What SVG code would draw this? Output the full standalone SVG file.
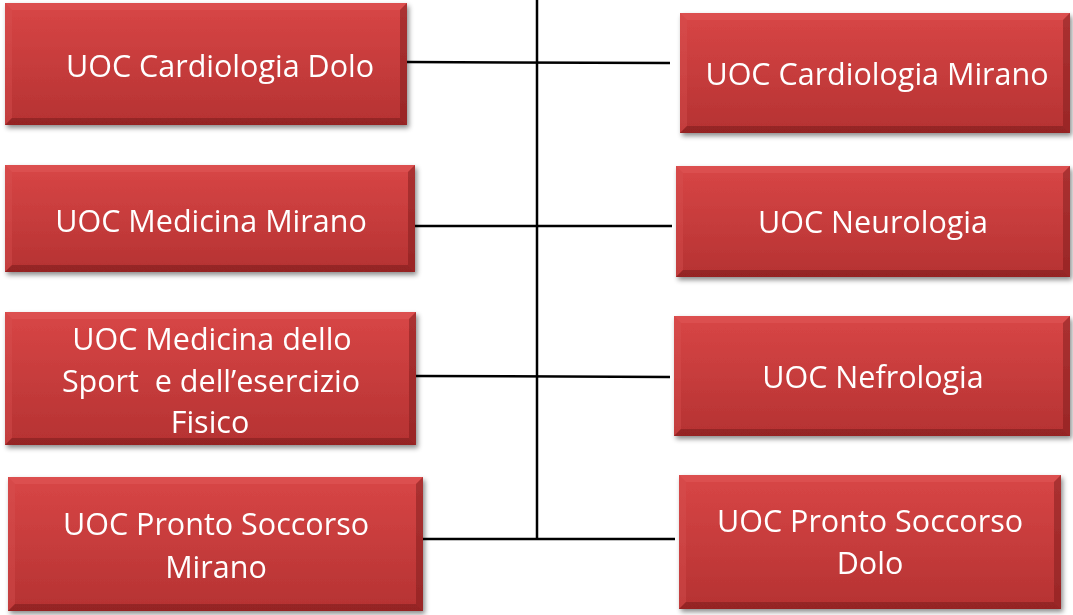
<svg xmlns="http://www.w3.org/2000/svg" width="1073" height="615" viewBox="0 0 1073 615">
<style>
.face{fill:url(#red)}
.bt{fill:#e05a5a;opacity:.55}
.bl{fill:#d65050;opacity:.4}
.br{fill:#7e1c1c;opacity:.5}
.bb{fill:#7a1a1a;opacity:.55}
.lbl{font-family:"Open Sans","Liberation Sans",sans-serif;font-size:30.5px;fill:#fff;text-anchor:middle;white-space:pre}
.conn line{stroke:#000;stroke-width:2.5}
.node{filter:url(#sh)}
</style>
<defs>
<linearGradient id="red" x1="0" y1="0" x2="0" y2="1">
<stop offset="0" stop-color="#d84646"/>
<stop offset="1" stop-color="#b53232"/>
</linearGradient>
<filter id="sh" x="-5%" y="-10%" width="115%" height="130%">
<feDropShadow dx="2" dy="3" stdDeviation="2.5" flood-color="#000" flood-opacity="0.45"/>
</filter>
</defs>
<rect width="1073" height="615" fill="#fff"/>
<g id="connectors" class="conn">
<line x1="537" y1="0" x2="537" y2="540"/>
<line x1="407" y1="62" x2="670" y2="63"/>
<line x1="415" y1="226" x2="672" y2="226"/>
<line x1="416" y1="376" x2="670" y2="377"/>
<line x1="420" y1="539" x2="675" y2="539"/>
</g>
<g id="n1" class="node">
<rect class="face" x="5" y="3" width="402" height="122"/>
<polygon class="bt" points="5,3 407,3 400,10 12,10"/>
<polygon class="bl" points="5,3 12,10 12,118 5,125"/>
<polygon class="br" points="407,3 407,125 400,118 400,10"/>
<polygon class="bb" points="5,125 407,125 400,118 12,118"/>
<text class="lbl" x="220" y="77">UOC Cardiologia Dolo</text>
</g>
<g id="n2" class="node">
<rect class="face" x="5" y="165" width="410" height="107"/>
<polygon class="bt" points="5,165 415,165 408,172 12,172"/>
<polygon class="bl" points="5,165 12,172 12,265 5,272"/>
<polygon class="br" points="415,165 415,272 408,265 408,172"/>
<polygon class="bb" points="5,272 415,272 408,265 12,265"/>
<text class="lbl" x="211" y="232">UOC Medicina Mirano</text>
</g>
<g id="n3" class="node">
<rect class="face" x="5" y="312" width="411" height="133"/>
<polygon class="bt" points="5,312 416,312 409,319 12,319"/>
<polygon class="bl" points="5,312 12,319 12,438 5,445"/>
<polygon class="br" points="416,312 416,445 409,438 409,319"/>
<polygon class="bb" points="5,445 416,445 409,438 12,438"/>
<text class="lbl" x="212" y="350">UOC Medicina dello</text>
<text class="lbl" x="211" y="392" xml:space="preserve">Sport  e dell’esercizio</text>
<text class="lbl" x="210" y="433">Fisico</text>
</g>
<g id="n4" class="node">
<rect class="face" x="8" y="477" width="415" height="134"/>
<polygon class="bt" points="8,477 423,477 416,484 15,484"/>
<polygon class="bl" points="8,477 15,484 15,604 8,611"/>
<polygon class="br" points="423,477 423,611 416,604 416,484"/>
<polygon class="bb" points="8,611 423,611 416,604 15,604"/>
<text class="lbl" x="216" y="535">UOC Pronto Soccorso</text>
<text class="lbl" x="216" y="578">Mirano</text>
</g>
<g id="n5" class="node">
<rect class="face" x="680" y="13" width="390" height="120"/>
<polygon class="bt" points="680,13 1070,13 1063,20 687,20"/>
<polygon class="bl" points="680,13 687,20 687,126 680,133"/>
<polygon class="br" points="1070,13 1070,133 1063,126 1063,20"/>
<polygon class="bb" points="680,133 1070,133 1063,126 687,126"/>
<text class="lbl" x="877" y="85">UOC Cardiologia Mirano</text>
</g>
<g id="n6" class="node">
<rect class="face" x="676" y="166" width="394" height="111"/>
<polygon class="bt" points="676,166 1070,166 1063,173 683,173"/>
<polygon class="bl" points="676,166 683,173 683,270 676,277"/>
<polygon class="br" points="1070,166 1070,277 1063,270 1063,173"/>
<polygon class="bb" points="676,277 1070,277 1063,270 683,270"/>
<text class="lbl" x="873" y="233">UOC Neurologia</text>
</g>
<g id="n7" class="node">
<rect class="face" x="674" y="316" width="396" height="120"/>
<polygon class="bt" points="674,316 1070,316 1063,323 681,323"/>
<polygon class="bl" points="674,316 681,323 681,429 674,436"/>
<polygon class="br" points="1070,316 1070,436 1063,429 1063,323"/>
<polygon class="bb" points="674,436 1070,436 1063,429 681,429"/>
<text class="lbl" x="873" y="388">UOC Nefrologia</text>
</g>
<g id="n8" class="node">
<rect class="face" x="679" y="475" width="382" height="134"/>
<polygon class="bt" points="679,475 1061,475 1054,482 686,482"/>
<polygon class="bl" points="679,475 686,482 686,602 679,609"/>
<polygon class="br" points="1061,475 1061,609 1054,602 1054,482"/>
<polygon class="bb" points="679,609 1061,609 1054,602 686,602"/>
<text class="lbl" x="870" y="532">UOC Pronto Soccorso</text>
<text class="lbl" x="870" y="574">Dolo</text>
</g>
</svg>
